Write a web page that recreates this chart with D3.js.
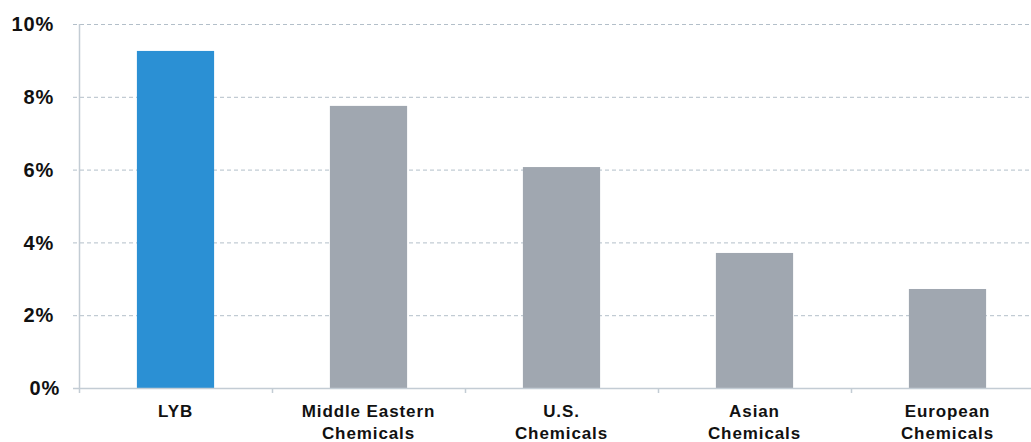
<!DOCTYPE html>
<html><head><meta charset="utf-8">
<script src="https://cdn.jsdelivr.net/npm/d3@7"></script>
<style>
html,body{margin:0;padding:0;background:#fff;}
svg{display:block;}
text{font-family:"Liberation Sans",Arial,sans-serif;font-weight:bold;fill:#111;}
</style></head>
<body>
<svg id="chart" width="1031" height="442"></svg>
<script>
const categories = [["LYB"],["Middle Eastern","Chemicals"],["U.S.","Chemicals"],["Asian","Chemicals"],["European","Chemicals"]];
const values = [9.26, 7.75, 6.07, 3.71, 2.72];
const barColors = ["#2b90d4","#a0a7b0","#a0a7b0","#a0a7b0","#a0a7b0"];
const yTicks = [0,2,4,6,8,10];

(function(){
const svg = d3.select("#chart");
const mLeft = 79, mRight = 1044, mTop = 24, mBottom = 388;
const x = d3.scaleBand().domain(d3.range(categories.length)).range([mLeft,mRight]).paddingInner(0.6).paddingOuter(0.3);
const xb = d3.scaleLinear().domain([0,categories.length]).range([mLeft,mRight]);
const y = d3.scaleLinear().domain([0,10]).range([mBottom,mTop]);

// gridlines
svg.append("g").selectAll("line").data(yTicks.filter(d=>d>0)).join("line")
  .attr("x1",73).attr("x2",1031).attr("y1",d=>y(d)+0.5).attr("y2",d=>y(d)+0.5)
  .attr("stroke","#b3bfc9").attr("stroke-width",1).attr("stroke-dasharray","4,3");

// bars
svg.append("g").selectAll("rect").data(values).join("rect")
  .attr("x",(d,i)=>x(i)).attr("width",x.bandwidth())
  .attr("y",d=>y(d)).attr("height",d=>mBottom-y(d))
  .attr("fill",(d,i)=>barColors[i]);

const ax = "#c3ccd4";
svg.append("line").attr("x1",mLeft+0.5).attr("x2",mLeft+0.5).attr("y1",mTop).attr("y2",mBottom+5).attr("stroke",ax).attr("stroke-width",1.5);
svg.append("line").attr("x1",73).attr("x2",1031).attr("y1",mBottom+0.5).attr("y2",mBottom+0.5).attr("stroke",ax).attr("stroke-width",1.5);
svg.append("g").selectAll("line").data(d3.range(1,categories.length)).join("line")
  .attr("x1",d=>xb(d)+0.5).attr("x2",d=>xb(d)+0.5).attr("y1",mBottom).attr("y2",mBottom+5)
  .attr("stroke",ax).attr("stroke-width",1.5);

// y tick labels
svg.append("g").selectAll("text").data(yTicks).join("text")
  .attr("x",d=>d===0?60:54).attr("y",d=>y(d)).attr("dy","0.36em")
  .attr("text-anchor","end").style("font-size","20px").style("letter-spacing","0.8px")
  .text(d=>d+"%");

// category labels
const cg = svg.append("g").selectAll("text").data(categories).join("text")
  .attr("text-anchor","middle").style("font-size","17px").style("letter-spacing","0.9px")
  .attr("transform",(d,i)=>`translate(${x(i)+x.bandwidth()/2},417)`);
cg.selectAll("tspan").data(d=>d).join("tspan")
  .attr("x",0).attr("y",(d,i)=>i*21.5).text(d=>d);
})();
</script>
</body></html>
